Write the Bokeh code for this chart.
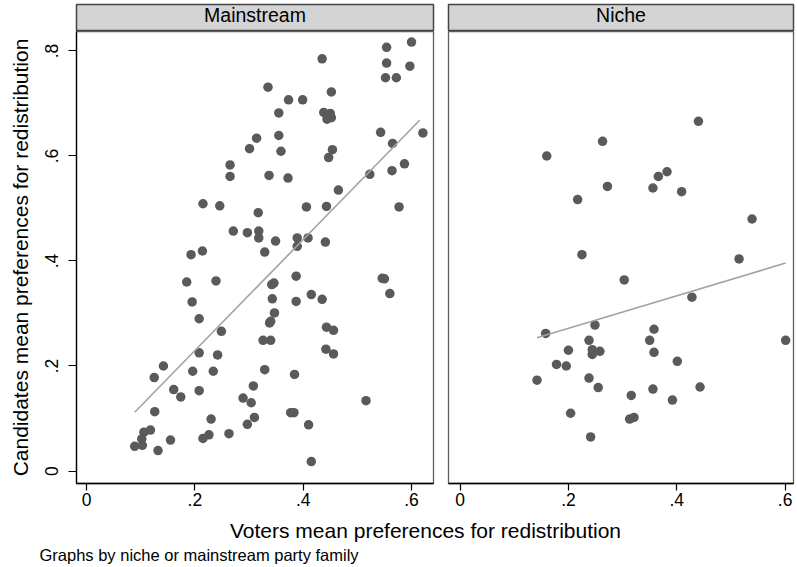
from bokeh.plotting import figure
from bokeh.layouts import row, column
from bokeh.models import Range1d, FixedTicker, Label
from bokeh.embed import file_html
from bokeh.resources import INLINE

FONT = "Liberation Sans"

# Panel titles (party family)
panel_names = ["Mainstream", "Niche"]

# Mainstream parties: voters' vs candidates' mean preferences for redistribution
main_x = [0.600, 0.554, 0.554, 0.597, 0.552, 0.572, 0.435, 0.335, 0.452, 0.373,
          0.399, 0.355, 0.438, 0.450, 0.444, 0.452, 0.543, 0.621, 0.565, 0.355,
          0.314, 0.301, 0.265, 0.265, 0.215, 0.246, 0.317, 0.271, 0.297, 0.318,
          0.318, 0.214, 0.193, 0.239, 0.185, 0.359, 0.454, 0.447, 0.587, 0.564,
          0.523, 0.337, 0.372, 0.465, 0.406, 0.443, 0.577, 0.349, 0.389, 0.409,
          0.389, 0.441, 0.329, 0.387, 0.546, 0.550, 0.346, 0.342, 0.560, 0.415,
          0.435, 0.387, 0.343, 0.347, 0.338, 0.340, 0.326, 0.340, 0.443, 0.456,
          0.442, 0.456, 0.329, 0.384, 0.516, 0.377, 0.383, 0.410, 0.415, 0.195,
          0.208, 0.249, 0.208, 0.242, 0.142, 0.125, 0.196, 0.234, 0.161, 0.174,
          0.208, 0.308, 0.289, 0.304, 0.126, 0.230, 0.310, 0.297, 0.118, 0.106,
          0.102, 0.089, 0.103, 0.132, 0.155, 0.215, 0.226, 0.263]
main_y = [0.817, 0.807, 0.777, 0.771, 0.749, 0.749, 0.785, 0.731, 0.722, 0.707,
          0.707, 0.682, 0.683, 0.681, 0.670, 0.673, 0.645, 0.644, 0.624, 0.639,
          0.634, 0.614, 0.583, 0.561, 0.509, 0.505, 0.492, 0.457, 0.454, 0.457,
          0.444, 0.419, 0.412, 0.362, 0.360, 0.609, 0.612, 0.597, 0.585, 0.572,
          0.565, 0.563, 0.558, 0.535, 0.503, 0.504, 0.503, 0.438, 0.444, 0.444,
          0.428, 0.436, 0.417, 0.371, 0.367, 0.366, 0.358, 0.355, 0.338, 0.336,
          0.327, 0.323, 0.328, 0.301, 0.282, 0.285, 0.249, 0.249, 0.274, 0.268,
          0.232, 0.223, 0.193, 0.184, 0.134, 0.111, 0.111, 0.088, 0.018, 0.322,
          0.290, 0.266, 0.225, 0.221, 0.200, 0.178, 0.190, 0.190, 0.155, 0.141,
          0.153, 0.162, 0.139, 0.130, 0.113, 0.099, 0.102, 0.089, 0.078, 0.074,
          0.061, 0.047, 0.049, 0.039, 0.059, 0.062, 0.069, 0.071]

# Niche parties
niche_x = [0.440, 0.263, 0.160, 0.382, 0.366, 0.272, 0.356, 0.409, 0.217, 0.539,
           0.225, 0.515, 0.303, 0.428, 0.249, 0.158, 0.358, 0.238, 0.350, 0.601,
           0.200, 0.244, 0.258, 0.244, 0.358, 0.178, 0.196, 0.401, 0.142, 0.238,
           0.255, 0.443, 0.356, 0.316, 0.392, 0.204, 0.313, 0.321, 0.241]
niche_y = [0.666, 0.628, 0.600, 0.570, 0.561, 0.542, 0.539, 0.532, 0.517, 0.480,
           0.412, 0.404, 0.364, 0.331, 0.278, 0.262, 0.270, 0.249, 0.249, 0.249,
           0.230, 0.231, 0.228, 0.222, 0.226, 0.203, 0.200, 0.209, 0.173, 0.177,
           0.159, 0.160, 0.156, 0.144, 0.135, 0.110, 0.099, 0.102, 0.065]

# Linear fit lines (end points)
main_fit_x = [0.089, 0.615]
main_fit_y = [0.112, 0.668]
niche_fit_x = [0.142, 0.601]
niche_fit_y = [0.254, 0.396]

x_ticks = [0, 0.2, 0.4, 0.6]
x_tick_labels = ["0", ".2", ".4", ".6"]
y_ticks = [0, 0.2, 0.4, 0.6, 0.8]
y_tick_labels = ["0", ".2", ".4", ".6", ".8"]

x_title = "Voters mean preferences for redistribution"
y_title = "Candidates mean preferences for redistribution"
note = "Graphs by niche or mainstream party family"

MARKER = "#5a5a5a"
FIT = "#a3a3a3"
STRIP = "#d4d4d4"
FRAME = "#5e5e5e"

Y_RANGE = (-0.0238, 0.8371)


def style_axis(ax, ticks, labels):
    ax.ticker = FixedTicker(ticks=ticks)
    ax.major_label_overrides = {(0 if t == 0 else t): l for t, l in zip(ticks, labels)}
    ax.minor_tick_in = 0
    ax.minor_tick_out = 0
    ax.major_tick_in = 0
    ax.major_tick_out = 7
    ax.axis_line_color = "black"
    ax.axis_line_width = 1.3
    ax.major_tick_line_color = "black"
    ax.major_tick_line_width = 1.2
    ax.major_label_text_font = FONT
    ax.major_label_text_font_size = "17.5px"
    ax.major_label_text_color = "black"


def header(name, width, left, right):
    h = figure(width=width, height=31, x_range=Range1d(0, 1), y_range=Range1d(0, 1),
               output_backend="svg", toolbar_location=None, title_location=None,
               x_axis_location=None, y_axis_location=None,
               min_border_left=left, min_border_right=right,
               min_border_top=4, min_border_bottom=0)
    h.background_fill_color = STRIP
    h.outline_line_color = "#444444"
    h.outline_line_width = 1.5
    h.xgrid.visible = False
    h.ygrid.visible = False
    h.add_layout(Label(x=0.5, y=0.61, text=name, text_align="center",
                       text_baseline="middle", text_font=FONT,
                       text_font_size="19.5px", text_color="black"))
    return h


def panel(xs, ys, fx, fy, x_rng, width, left, right, with_y_axis):
    p = figure(width=width, height=484, x_range=Range1d(*x_rng), y_range=Range1d(*Y_RANGE),
               output_backend="svg", toolbar_location=None, title_location=None,
               y_axis_location="left" if with_y_axis else None,
               min_border_left=left, min_border_right=right,
               min_border_top=0, min_border_bottom=32)
    p.xgrid.visible = False
    p.ygrid.visible = False
    p.outline_line_color = FRAME
    p.outline_line_width = 1.3
    p.background_fill_color = "white"
    style_axis(p.xaxis[0], x_ticks, x_tick_labels)
    p.xaxis.major_label_standoff = 2
    if with_y_axis:
        ya = p.yaxis[0]
        style_axis(ya, y_ticks, y_tick_labels)
        ya.major_tick_out = 8
        ya.major_label_orientation = "vertical"
        ya.major_label_standoff = 10
        ya.axis_label = y_title
        ya.axis_label_text_font = FONT
        ya.axis_label_text_font_size = "21px"
        ya.axis_label_text_font_style = "normal"
        ya.axis_label_text_color = "black"
        ya.axis_label_standoff = 11
    p.scatter(xs, ys, size=9.5, fill_color=MARKER, line_color=None)
    p.line(fx, fy, line_color=FIT, line_width=1.6)
    return p


h1 = header(panel_names[0], 440, 76, 7)
p1 = panel(main_x, main_y, main_fit_x, main_fit_y, (-0.0185, 0.6406), 440, 76, 7, True)
h2 = header(panel_names[1], 357, 8, 4)
p2 = panel(niche_x, niche_y, niche_fit_x, niche_fit_y, (-0.0214, 0.6155), 357, 8, 4, False)

# Shared x-axis title and note underneath both panels
b = figure(width=797, height=52, x_range=Range1d(0, 797), y_range=Range1d(0, 52),
           output_backend="svg", toolbar_location=None, title_location=None,
           x_axis_location=None, y_axis_location=None,
           min_border_left=0, min_border_right=0, min_border_top=0, min_border_bottom=0)
b.outline_line_color = None
b.xgrid.visible = False
b.ygrid.visible = False
b.add_layout(Label(x=425, y=37.5, text=x_title, text_align="center",
                   text_baseline="middle", text_font=FONT,
                   text_font_size="21px", text_color="black"))
b.add_layout(Label(x=39, y=13, text=note, text_align="left",
                   text_baseline="middle", text_font=FONT,
                   text_font_size="16.5px", text_color="black"))

layout = column(row(column(h1, p1), column(h2, p2)), b)

open("out.html", "w").write(file_html(layout, INLINE))
